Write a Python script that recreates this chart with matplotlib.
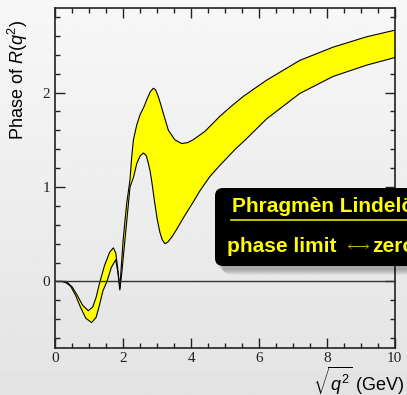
import numpy as np
import matplotlib
matplotlib.use("Agg")
from matplotlib import pyplot as plt
from matplotlib.patches import FancyBboxPatch
from matplotlib.ticker import MultipleLocator

plt.rcParams['font.family'] = ['Liberation Sans', 'DejaVu Sans']
plt.rcParams['mathtext.fontset'] = 'custom'
plt.rcParams['mathtext.rm'] = 'Liberation Sans'
plt.rcParams['mathtext.it'] = 'Liberation Sans:italic'

# Upper edge of the phase band
x_upper = [0.0, 0.2, 0.35, 0.5, 0.65, 0.8, 0.97, 1.1, 1.2, 1.3, 1.45, 1.6,
           1.71, 1.78, 1.85, 1.9, 1.95, 2.0, 2.1, 2.2, 2.25, 2.3, 2.4, 2.5,
           2.6, 2.7, 2.8, 2.885, 2.95, 3.03, 3.1, 3.18, 3.33, 3.52, 3.72,
           3.9, 4.06, 4.41, 4.85, 5.2, 5.54, 6.22, 7.2, 8.18, 9.17, 10.0]
y_upper = [0.0, 0.0, -0.01, -0.06, -0.15, -0.25, -0.31, -0.27, -0.17, -0.02,
           0.17, 0.31, 0.356, 0.30, 0.10, -0.07, 0.20, 0.45, 0.82, 1.08,
           1.32, 1.50, 1.66, 1.77, 1.84, 1.93, 2.01, 2.045, 2.03, 1.96,
           1.88, 1.78, 1.60, 1.50, 1.46, 1.47, 1.50, 1.59, 1.75, 1.86,
           1.96, 2.13, 2.34, 2.48, 2.59, 2.66]

# Lower edge of the phase band
x_lower = [0.0, 0.2, 0.3, 0.45, 0.6, 0.75, 0.9, 1.07, 1.2, 1.3, 1.4, 1.52,
           1.65, 1.78, 1.84, 1.9, 1.96, 2.05, 2.2, 2.3, 2.4, 2.5, 2.6,
           2.68, 2.74, 2.79, 2.84, 2.92, 3.0, 3.08, 3.15, 3.23, 3.32, 3.45,
           3.57, 3.8, 4.06, 4.26, 4.55, 4.85, 5.3, 5.6, 6.22, 7.2, 8.18,
           9.17, 10.0]
y_lower = [0.0, 0.0, -0.01, -0.05, -0.15, -0.28, -0.39, -0.435, -0.38,
           -0.25, -0.10, 0.0, 0.15, 0.23, 0.10, -0.09, 0.10, 0.44, 1.00,
           1.10, 1.25, 1.33, 1.36, 1.33, 1.25, 1.17, 1.06, 0.85, 0.66,
           0.52, 0.44, 0.40, 0.42, 0.48, 0.55, 0.69, 0.84, 0.96, 1.11,
           1.23, 1.40, 1.50, 1.72, 1.99, 2.17, 2.29, 2.37]

fig = plt.figure(figsize=(4.07, 3.95), dpi=100)

# slide background, light grey fading downwards
bg = fig.add_axes([0, 0, 1, 1], zorder=-10)
grad = np.linspace(0.97, 0.89, 256).reshape(-1, 1)
bg.imshow(grad, aspect='auto', cmap='gray', vmin=0, vmax=1, extent=[0, 1, 0, 1])
bg.set_axis_off()

ax = fig.add_axes([0.136, 0.12, 0.834, 0.861])
ax.set_facecolor('none')

band_x = np.concatenate([x_upper, x_lower[::-1]])
band_y = np.concatenate([y_upper, y_lower[::-1]])
ax.fill(band_x, band_y, facecolor='#ffff00', edgecolor='none', zorder=2)
ax.plot(x_upper, y_upper, color='black', lw=0.8, zorder=3)
ax.plot(x_lower, y_lower, color='black', lw=0.8, zorder=3)
ax.axhline(0, color='#333333', lw=1.0, zorder=4)

ax.set_xlim(0, 10)
ax.set_ylim(-0.7, 2.9)
ax.xaxis.set_major_locator(MultipleLocator(2))
ax.xaxis.set_minor_locator(MultipleLocator(0.5))
ax.yaxis.set_major_locator(MultipleLocator(1))
ax.yaxis.set_minor_locator(MultipleLocator(0.2))
ax.tick_params(which='both', direction='in', top=True, right=True,
               width=1.0, labelsize=11, labelfontfamily='Liberation Serif',
               colors='#222222')
ax.tick_params(which='major', length=7)
ax.tick_params(which='minor', length=3.5)
for s in ax.spines.values():
    s.set_linewidth(1.2)
    s.set_color('#222222')

fig.text(18 / 407, 1 - 80 / 395, r'Phase of $R(q^2)$', rotation=90,
         ha='center', va='center', fontsize=13)
fig.text(405 / 407, 1 - 381 / 395, r'$\sqrt{q^2}$ (GeV)',
         ha='right', va='center', fontsize=13)

# annotation box with soft shadow, running off the right edge
bx0, by0 = 215 / 407, 1 - 266 / 395
bw, bh = 0.6, 78 / 395
for i in range(6):
    sh = FancyBboxPatch((bx0 + (3 + i) / 407, by0 - (4 + i) / 395), bw, bh,
                        boxstyle='round,pad=0,rounding_size=0.02',
                        transform=fig.transFigure, facecolor='black',
                        edgecolor='none', alpha=0.05, zorder=5)
    fig.patches.append(sh)
box = FancyBboxPatch((bx0, by0), bw, bh,
                     boxstyle='round,pad=0,rounding_size=0.02',
                     transform=fig.transFigure, facecolor='black',
                     edgecolor='none', zorder=6)
fig.patches.append(box)

fig.text(232 / 407, 1 - 212 / 395, 'Phragmèn Lindelöf', color='#ffff00',
         fontsize=15, fontweight='bold', ha='left', va='baseline', zorder=7)
fig.add_artist(plt.Line2D([231 / 407, 1.0], [1 - 220 / 395, 1 - 220 / 395],
                          color='#e6e600', lw=1.2, zorder=7))
fig.text(227 / 407, 1 - 252 / 395, 'phase limit', color='#ffff00',
         fontsize=15, fontweight='bold', ha='left', va='baseline', zorder=7)
fig.text(344 / 407, 1 - 250 / 395, r'$\longleftrightarrow$', color='#c8b400',
         fontsize=10.5, ha='left', va='baseline', zorder=7)
fig.text(372 / 407, 1 - 252 / 395, 'zeros', color='#ffff00',
         fontsize=15, fontweight='bold', ha='left', va='baseline', zorder=7)

fig.savefig('out.png', dpi=100)
